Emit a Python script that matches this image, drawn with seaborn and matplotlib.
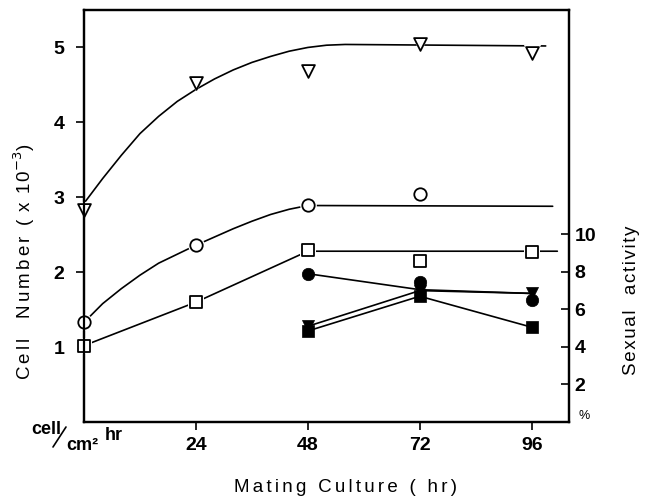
import numpy as np
import pandas as pd
import matplotlib
matplotlib.use("Agg")
import matplotlib.pyplot as plt
import seaborn as sns

sns.set_style("ticks")
plt.rcParams["font.family"] = ["Liberation Sans", "DejaVu Sans"]
plt.rcParams["text.color"] = "black"
plt.rcParams["xtick.color"] = "black"
plt.rcParams["ytick.color"] = "black"
plt.rcParams["xtick.labelcolor"] = "black"
plt.rcParams["ytick.labelcolor"] = "black"

# ---- cell number (x10^-3), open symbols, left axis ----
hours = [0, 24, 48, 72, 96]
tri_open = [2.83, 4.52, 4.69, 5.05, 4.92]
circ_open_x = [0, 24, 48, 72]
circ_open = [1.33, 2.36, 2.90, 3.05]
sq_open = [1.02, 1.60, 2.29, 2.15, 2.27]

# fitted guide curves
tri_fit_x = [0, 4, 8, 12, 16, 20, 24, 28, 32, 36, 40, 44, 48, 52, 56, 99]
tri_fit_y = [2.92, 3.25, 3.56, 3.85, 4.08, 4.28, 4.44, 4.58, 4.70, 4.80,
             4.88, 4.95, 5.00, 5.03, 5.04, 5.02]
circ_fit_x = [0, 4, 8, 12, 16, 20, 24, 28, 32, 36, 40, 44, 48, 100.5]
circ_fit_y = [1.33, 1.58, 1.78, 1.96, 2.12, 2.24, 2.36, 2.47, 2.58, 2.68,
              2.77, 2.84, 2.89, 2.88]
sq_fit_x = [0, 24, 48, 101.5]
sq_fit_y = [1.02, 1.60, 2.28, 2.28]

# ---- sexual activity (%), filled symbols, right axis ----
sex_hours = [48, 72, 96]
tri_fill = [5.1, 7.0, 6.85]
circ_fill = [7.9, 7.45, 6.5]
sq_fill = [4.85, 6.7, 5.05]
circ_fill_line = [7.9, 7.05, 6.85]

xticks = [24, 48, 72, 96]
left_ticks = [1, 2, 3, 4, 5]
right_ticks = [2, 4, 6, 8, 10]

fig = plt.figure(figsize=(6.49, 5.04), dpi=100)
ax = fig.add_axes([84 / 649, 82 / 504, (569 - 84) / 649, (422 - 10) / 504])
ax2 = ax.twinx()

lw = 1.2
# guide curves
for fx, fy in [(tri_fit_x, tri_fit_y), (circ_fit_x, circ_fit_y), (sq_fit_x, sq_fit_y)]:
    sns.lineplot(x=fx, y=fy, ax=ax, color="black", lw=lw, sort=False, zorder=2)


def open_marks(axis, xs, ys, marker, s):
    df = pd.DataFrame({"x": xs, "y": ys})
    sns.scatterplot(data=df, x="x", y="y", ax=axis, marker=marker, s=s * 1.8,
                    color="white", edgecolor="white", linewidth=0, zorder=3,
                    clip_on=False, legend=False)
    sns.scatterplot(data=df, x="x", y="y", ax=axis, marker=marker, s=s,
                    facecolor="white", edgecolor="black", linewidth=1.3,
                    zorder=4, clip_on=False, legend=False)


open_marks(ax, hours, tri_open, "v", 85)
open_marks(ax, circ_open_x, circ_open, "o", 80)
open_marks(ax, hours, sq_open, "s", 70)

# sexual activity lines and filled markers
for ys in [tri_fill, circ_fill_line, sq_fill]:
    sns.lineplot(x=sex_hours, y=ys, ax=ax2, color="black", lw=lw, sort=False, zorder=2)
for ys, m, s in [(circ_fill, "o", 80), (sq_fill, "s", 70), (tri_fill, "v", 75)]:
    sns.scatterplot(x=sex_hours, y=ys, ax=ax2, marker=m, s=s, color="black",
                    edgecolor="black", linewidth=0.5, zorder=4, legend=False)

# axes limits and ticks
ax.set_xlim(0, 104)
ax.set_ylim(0, 5.5)
ax2.set_ylim(0, 21.95)
ax.set_xticks(xticks)
ax.set_xticklabels([str(t) for t in xticks], fontsize=14, fontweight="bold")
ax.set_yticks(left_ticks)
ax.set_yticklabels([str(t) for t in left_ticks], fontsize=14, fontweight="bold")
ax2.set_yticks(right_ticks)
ax2.set_yticklabels([str(t) for t in right_ticks], fontsize=14, fontweight="bold")
ax.tick_params(axis="x", direction="out", length=6, width=1.2, pad=5)
ax.tick_params(axis="y", direction="out", length=6, width=1.2, pad=8)
ax2.tick_params(axis="y", direction="in", length=6, width=1.2, pad=4)
ax.set_xlabel("")
ax.set_ylabel("")
ax2.set_ylabel("")

for a in (ax, ax2):
    for sp in a.spines.values():
        sp.set_visible(True)
        sp.set_linewidth(1.6)
        sp.set_color("black")


def spaced(s, gap="\u200a\u200a"):
    return gap.join(s)


# text labels
fig.text(24 / 649, 1 - 262 / 504,
         spaced("Cell  Number") + "  " + spaced("( x 10", "\u200a") + "$^{-3}$)",
         rotation=90, ha="center", va="center", fontsize=13.5)
fig.text(631 / 649, 1 - 300 / 504, spaced("Sexual  activity", "\u200a"), rotation=90,
         ha="center", va="center", fontsize=13.5)
fig.text(346 / 649, 1 - 487 / 504, spaced("Mating Culture ( hr)"), ha="center",
         va="center", fontsize=13.5)
fig.text(584 / 649, 1 - 416 / 504, "%", ha="center", va="center", fontsize=9)
fig.text(46 / 649, 1 - 430 / 504, "cell", ha="center", va="center", fontsize=13, fontweight="bold")
fig.text(82 / 649, 1 - 446 / 504, "cm²", ha="center", va="center", fontsize=13, fontweight="bold")
fig.text(114 / 649, 1 - 436 / 504, "hr", ha="center", va="center", fontsize=13, fontweight="bold")
fig.add_artist(plt.Line2D([53 / 649, 66 / 649], [1 - 447 / 504, 1 - 427 / 504],
                          transform=fig.transFigure, color="black", lw=1.2))

fig.savefig("out.png", dpi=100)
